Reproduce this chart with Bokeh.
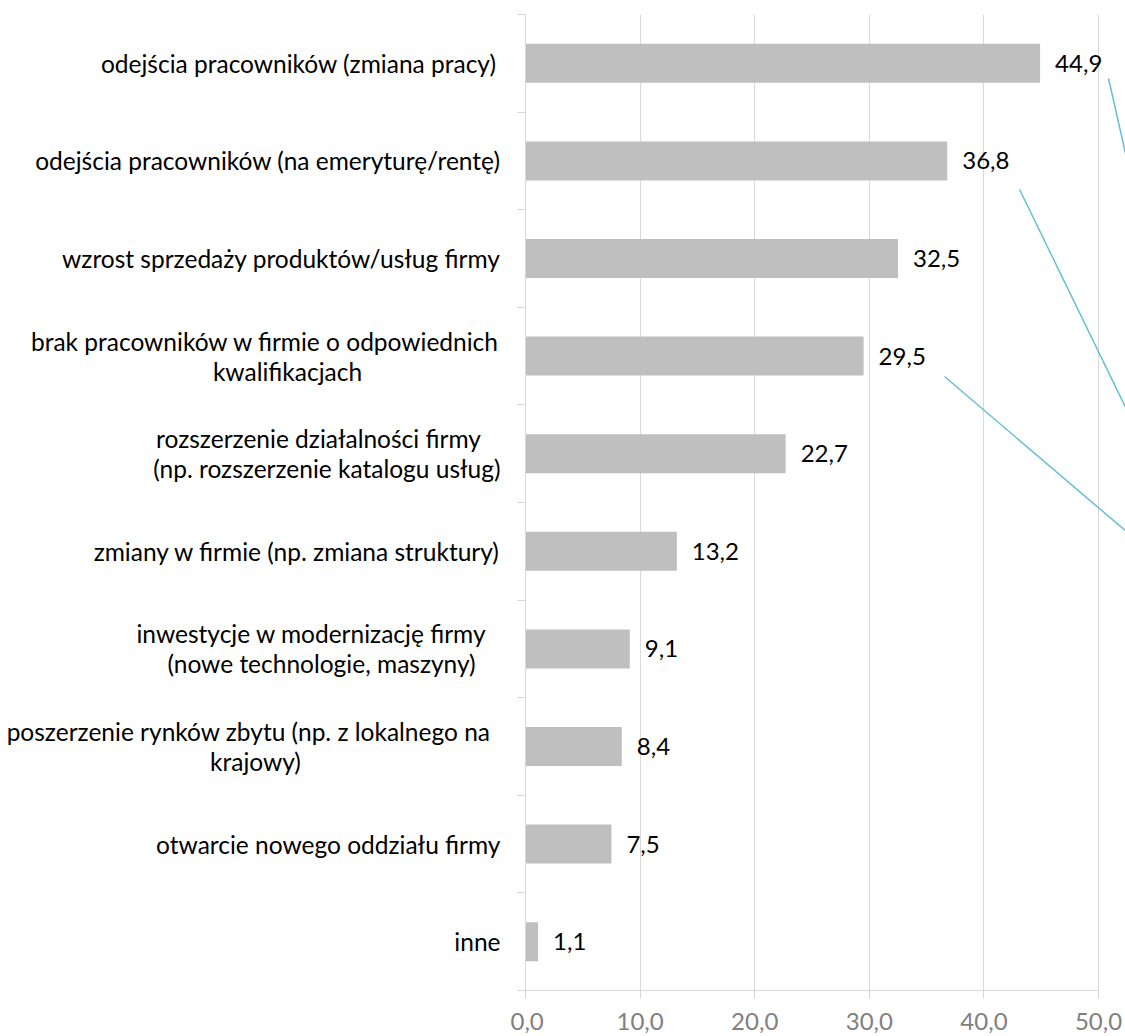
from bokeh.plotting import figure
from bokeh.layouts import row
from bokeh.models import FixedTicker, LabelSet, ColumnDataSource, Range1d
from bokeh.core.properties import value
from bokeh.embed import file_html
from bokeh.resources import INLINE

# ---- data ----
categories = [
    "odejścia pracowników (zmiana pracy)",
    "odejścia pracowników (na emeryturę/rentę)",
    "wzrost sprzedaży produktów/usług firmy",
    "brak pracowników w firmie o odpowiednich\nkwalifikacjach",
    "rozszerzenie działalności firmy\n(np. rozszerzenie katalogu usług)",
    "zmiany w firmie (np. zmiana struktury)",
    "inwestycje w modernizację firmy\n(nowe technologie, maszyny)",
    "poszerzenie rynków zbytu (np. z lokalnego na\nkrajowy)",
    "otwarcie nowego oddziału firmy",
    "inne",
]
values = [44.9, 36.8, 32.5, 29.5, 22.7, 13.2, 9.1, 8.4, 7.5, 1.1]
x_ticks = [0, 10, 20, 30, 40, 50]
x_tick_labels = ["0,0", "10,0", "20,0", "30,0", "40,0", "50,0"]

# leader lines (value units / category units, top category centred at 9.5)
leader_x0 = [50.87, 43.11, 36.56]
leader_y0 = [9.344, 8.207, 6.291]
leader_x1 = [56.0, 56.0, 56.0]
leader_y1 = [6.690, 5.094, 4.345]

# ---- layout / style ----
FONT = "Lato"
FS = "24px"
FS_CAT = "24.5px"
n = len(categories)
x_max = 52.35
W_LEFT = 510
H = 1036
TOP, BOTTOM = 14, 46
band_px = (H - TOP - BOTTOM) / n
# per category: (align, x position in the label panel) for each line
label_layout = [
    [("right", 496)],
    [("right", 500)],
    [("right", 500)],
    [("right", 499), ("center", 287)],
    [("center", 318), ("right", 500)],
    [("right", 500)],
    [("center", 311), ("center", 321)],
    [("right", 490), ("center", 255)],
    [("right", 500)],
    [("right", 500)],
]
line_spacing_px = 30

ypos = [n - 1 - i + 0.5 for i in range(n)]
src = ColumnDataSource(dict(
    y=ypos,
    value=values,
    label=[f"{v:.1f}".replace(".", ",") for v in values],
))
yr = Range1d(0, n)

# ---- main chart ----
p = figure(width=1125 - W_LEFT, height=H,
           x_range=Range1d(0, x_max), y_range=yr,
           output_backend="svg", toolbar_location=None,
           min_border_left=15, min_border_right=0,
           min_border_top=TOP, min_border_bottom=BOTTOM)
p.outline_line_color = None

p.hbar(y="y", right="value", left=0, height=0.4, source=src,
       fill_color="#bfbfbf", line_color=None)

p.segment(x0=leader_x0, y0=leader_y0, x1=leader_x1, y1=leader_y1,
          line_color="#67bfd3", line_width=1.5)

p.add_layout(LabelSet(x="value", y="y", text="label", source=src,
                      x_offset=15, text_baseline="middle", text_align="left",
                      text_font=value(FONT), text_font_size=value(FS),
                      text_color="#000000"))

xa = p.xaxis[0]
xa.ticker = FixedTicker(ticks=x_ticks)
xa.major_label_overrides = {t: l for t, l in zip(x_ticks, x_tick_labels)}
xa.bounds = (0, 50)
xa.axis_line_color = "#d9d9d9"
xa.major_tick_line_color = "#d9d9d9"
xa.major_tick_out = 8
xa.major_tick_in = 0
xa.minor_tick_line_color = None
xa.major_label_text_color = "#808080"
xa.major_label_text_font = FONT
xa.major_label_text_font_size = FS
xa.major_label_standoff = 14

ya = p.yaxis[0]
ya.ticker = FixedTicker(ticks=list(range(n + 1)))
ya.major_label_overrides = {i: "" for i in range(n + 1)}
ya.major_label_text_color = None
ya.major_label_standoff = 0
ya.axis_line_color = "#d9d9d9"
ya.major_tick_line_color = "#d9d9d9"
ya.major_tick_out = 8
ya.major_tick_in = 0
ya.minor_tick_line_color = None

p.xgrid.ticker = FixedTicker(ticks=x_ticks[1:])
p.xgrid.grid_line_color = "#d9d9d9"
p.ygrid.grid_line_color = None

# ---- category label panel ----
lx, ly, lt, la = [], [], [], []
for cat, yc, lay in zip(categories, ypos, label_layout):
    lines = cat.split("\n")
    k = len(lines)
    for j, (txt, (al, xp)) in enumerate(zip(lines, lay)):
        lx.append(xp)
        ly.append(yc + ((k - 1) / 2 - j) * line_spacing_px / band_px)
        lt.append(txt)
        la.append(al)
lsrc = ColumnDataSource(dict(x=lx, y=ly, text=lt, align=la))

q = figure(width=W_LEFT, height=H, x_range=Range1d(0, W_LEFT), y_range=yr,
           output_backend="svg", toolbar_location=None,
           min_border_left=0, min_border_right=0,
           min_border_top=TOP, min_border_bottom=BOTTOM)
q.outline_line_color = None
q.axis.visible = False
q.grid.grid_line_color = None
q.text(x="x", y="y", text="text", text_align="align", source=lsrc,
       text_baseline="middle", text_font=value(FONT),
       text_font_size=value(FS_CAT), text_color="#000000")

layout = row(q, p)
open("out.html", "w").write(file_html(layout, INLINE))
